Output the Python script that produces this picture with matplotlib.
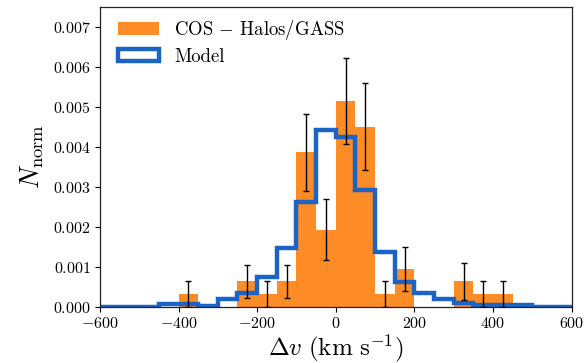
import numpy as np
import matplotlib
matplotlib.use("Agg")
import matplotlib.pyplot as plt
from matplotlib.patches import Patch
from matplotlib.ticker import FuncFormatter, MultipleLocator

plt.rcParams['mathtext.fontset'] = 'cm'
plt.rcParams['font.family'] = 'serif'
plt.rcParams['font.serif'] = ['cmr10', 'DejaVu Serif']
plt.rcParams['axes.formatter.use_mathtext'] = True
plt.rcParams['axes.unicode_minus'] = False

# Observed COS-Halos/GASS histogram (bin centres, normalised heights, errors)
obs_centers = [-375, -225, -175, -125, -75, -25, 25, 75, 125, 175, 325, 375, 425]
obs_heights = [0.00032, 0.00064, 0.00032, 0.00064, 0.00387, 0.00193, 0.00515,
               0.00451, 0.00032, 0.00096, 0.00064, 0.00032, 0.00032]
obs_errors = [0.00032, 0.00042, 0.00032, 0.00042, 0.00096, 0.00076, 0.00107,
              0.00109, 0.00032, 0.00055, 0.00046, 0.00032, 0.00032]
bin_width = 50

# Model histogram (step), edges from -600 to 600 in 50 km/s bins
model_edges = [-600, -550, -500, -450, -400, -350, -300, -250, -200, -150, -100,
               -50, 0, 50, 100, 150, 200, 250, 300, 350, 400, 450, 500, 550, 600]
model_values = [0.00001, 0.00001, 0.00001, 0.00007, 0.00007, 0.00003, 0.00019,
                0.00034, 0.00076, 0.00147, 0.00263, 0.00443, 0.00424, 0.00293,
                0.00138, 0.00062, 0.00034, 0.00021, 0.00011, 0.00006, 0.00004,
                0.00004, 0.00001, 0.00001]

orange = '#fd8b26'
blue = '#1b64c6'

fig = plt.figure(figsize=(5.84, 3.63), dpi=100)
ax = fig.add_axes([0.171, 0.154, 0.808, 0.827])

ax.bar(obs_centers, obs_heights, width=bin_width, color=orange, linewidth=0, zorder=1)
ax.stairs(model_values, model_edges, color=blue, linewidth=3.2, zorder=2)
ax.errorbar(obs_centers, obs_heights, yerr=obs_errors, fmt='none', ecolor='black',
            elinewidth=1.0, capsize=2, capthick=1.0, zorder=3)

ax.set_xlim(-600, 600)
ax.set_ylim(0, 0.0075)
ax.xaxis.set_major_locator(MultipleLocator(200))
ax.yaxis.set_major_locator(MultipleLocator(0.001))
ax.xaxis.set_major_formatter(FuncFormatter(lambda v, p: r'$%d$' % int(round(v))))
ax.yaxis.set_major_formatter(FuncFormatter(lambda v, p: r'$%.3f$' % v))
ax.tick_params(direction='out', length=3.5, width=0.8, labelsize=11.5, pad=3)
for s in ax.spines.values():
    s.set_linewidth(0.9)
    s.set_color('#222222')

ax.set_xlabel(r'$\Delta v\ ({\rm km\ s^{-1}})$', fontsize=18, labelpad=1)
ax.set_ylabel(r'$N_{\rm norm}$', fontsize=19, labelpad=5)

handles = [Patch(facecolor=orange, edgecolor='none'),
           Patch(facecolor='white', edgecolor=blue, linewidth=3.2)]
labels = [r'COS $-$ Halos/GASS', 'Model']
ax.legend(handles, labels, loc='upper left', bbox_to_anchor=(0.022, 0.988),
          frameon=False, fontsize=13.5, handlelength=2.2, handleheight=0.65,
          borderaxespad=0.0, labelspacing=0.3, handletextpad=0.8)

fig.savefig('out.png', dpi=100)
